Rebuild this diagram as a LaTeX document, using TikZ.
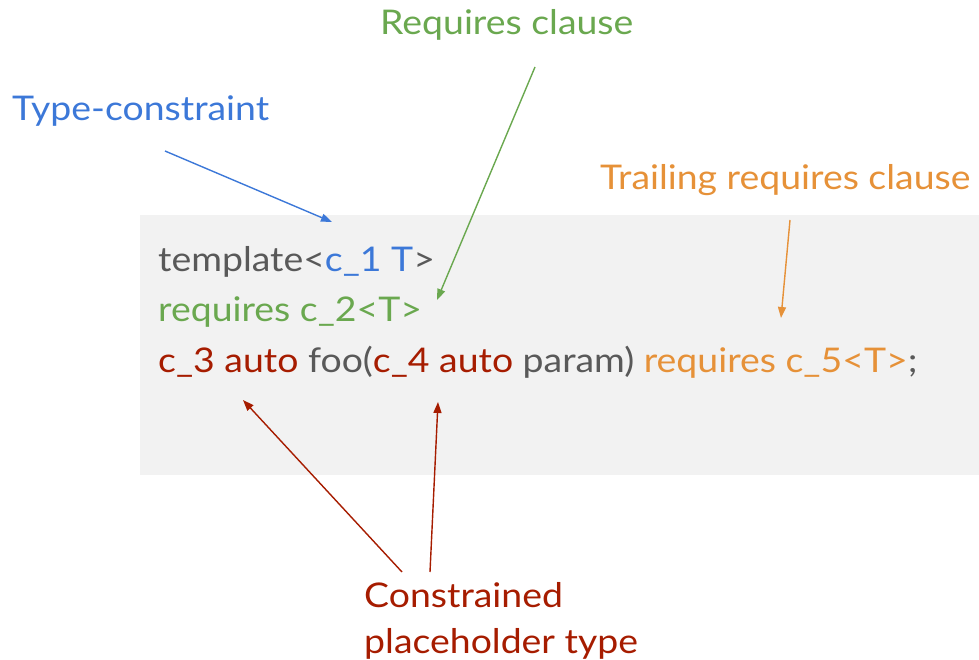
\documentclass[tikz,border=0pt]{standalone}
\usepackage{fontspec}
\setmainfont[FakeStretch=1.1]{Lato}
\usepackage{xcolor}
\usetikzlibrary{arrows.meta, positioning}
\definecolor{tcblue}{HTML}{3C78D8}
\definecolor{rqgreen}{HTML}{6AA84F}
\definecolor{trorange}{HTML}{E69138}
\definecolor{phred}{HTML}{A61C00}
\definecolor{codegray}{HTML}{595959}
\definecolor{codebg}{HTML}{F2F2F2}

\begin{document}
\begin{tikzpicture}[x=1pt, y=-1pt,
  lbl/.style={font=\fontsize{34}{46}\selectfont, inner sep=0pt, anchor=base west},
  code/.style={lbl, text=codegray},
  ptr/.style={-{Triangle[length=11pt,width=8pt]}, line width=1.4pt}]
\useasboundingbox (0,0) rectangle (979,660);
\fill[codebg] (140,215) rectangle (979,475);
% code lines
\node[code] (line1) at (158,271) {template<{\color{tcblue}c\_1 T}>};
\node[code, text=rqgreen] (line2) at (158,321) {requires c\_2<T>};
\node[code] (line3) at (158,372) {{\color{phred}c\_3 auto} foo({\color{phred}c\_4 auto} param) {\color{trorange}requires c\_5<T>};};
% labels
\node[lbl, text=tcblue] (tc) at (12,121) {Type-constraint};
\node[lbl, text=rqgreen] (rq) at (380,35) {Requires clause};
\node[lbl, text=trorange] (tr) at (600,190) {Trailing requires clause};
\node[lbl, text=phred, align=left, anchor=north west] (ph) at (364,582) {Constrained\\placeholder type};
% arrow ends
\coordinate (tcTail) at (165,151);
\coordinate (tcTip) at (332,222);
\coordinate (rqTail) at (535,67);
\coordinate (rqTip) at (437,300);
\coordinate (trTail) at (790,220);
\coordinate (trTip) at (781,318);
\coordinate (phTailA) at (402,572);
\coordinate (phTipA) at (243,400);
\coordinate (phTailB) at (430,572);
\coordinate (phTipB) at (438,402);
\draw[ptr, tcblue] (tcTail) -- (tcTip);
\draw[ptr, rqgreen] (rqTail) -- (rqTip);
\draw[ptr, trorange] (trTail) -- (trTip);
\draw[ptr, phred] (phTailA) -- (phTipA);
\draw[ptr, phred] (phTailB) -- (phTipB);
\end{tikzpicture}
\end{document}
